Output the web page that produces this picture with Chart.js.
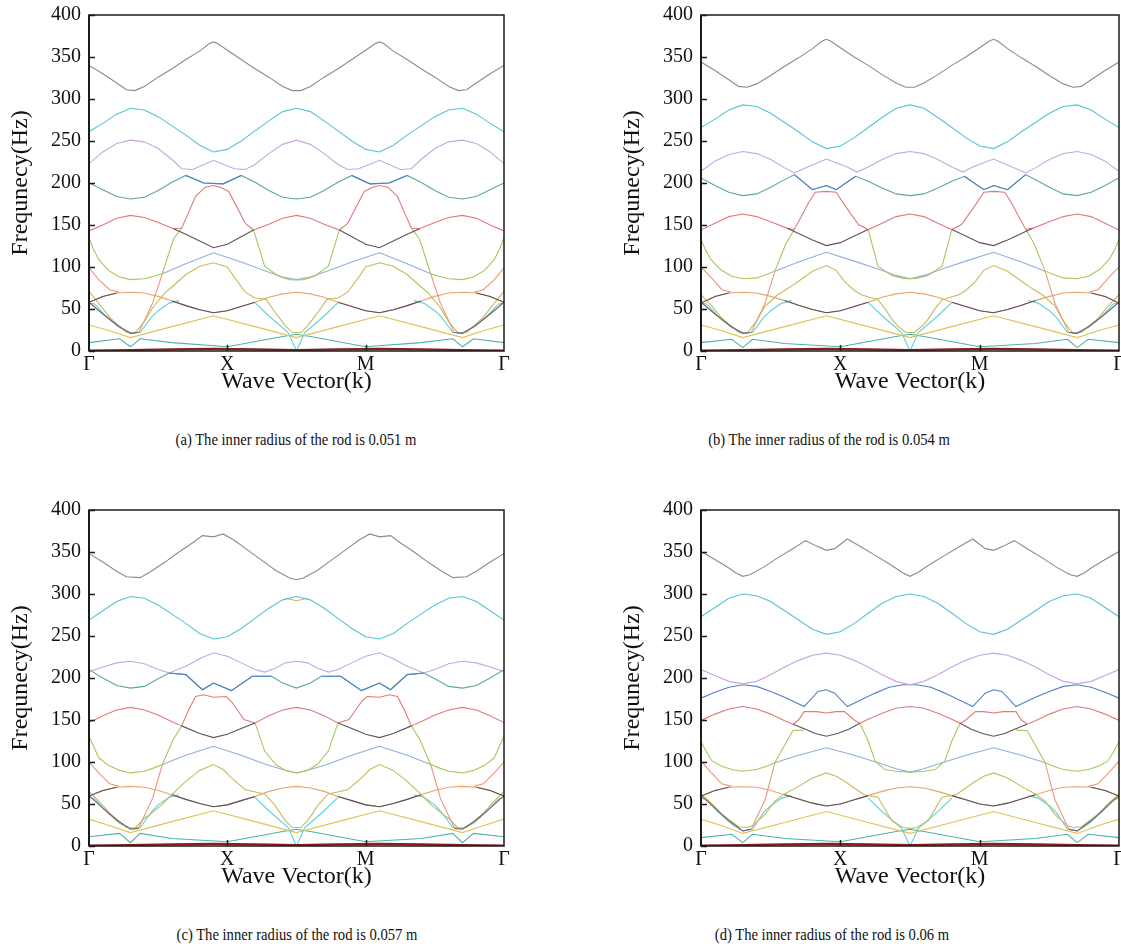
<!DOCTYPE html>
<html>
<head>
<meta charset="utf-8">
<script src="https://cdn.jsdelivr.net/npm/chart.js@4.4.0/dist/chart.umd.min.js"></script>
<style>
  html, body { margin: 0; padding: 0; background: #fff; width: 1121px; height: 952px; overflow: hidden; }
  canvas.panel { position: absolute; }
  .cap { position: absolute; font-family: 'Liberation Serif', 'Times New Roman', serif; font-size: 17px; color: #111;
         white-space: nowrap; transform: translateX(-50%) scaleX(0.86); }
</style>
</head>
<body>
<canvas id="pa" class="panel" width="520" height="400" style="left:0px;top:0px"></canvas>
<canvas id="pb" class="panel" width="520" height="400" style="left:612px;top:0px"></canvas>
<canvas id="pc" class="panel" width="520" height="400" style="left:0px;top:495px"></canvas>
<canvas id="pd" class="panel" width="520" height="400" style="left:612px;top:495px"></canvas>
<div class="cap" style="left:296px;top:430px">(a) The inner radius of the rod is 0.051 m</div>
<div class="cap" style="left:829px;top:430px">(b) The inner radius of the rod is 0.054 m</div>
<div class="cap" style="left:297px;top:925px">(c) The inner radius of the rod is 0.057 m</div>
<div class="cap" style="left:832px;top:925px">(d) The inner radius of the rod is 0.06 m</div>
<script>
// Band structure along Γ–X–M–Γ: each band is a list of [k, frequency (Hz)] vertices, null = break.
const N = null;
const K_LABELS = ['Γ', 'X', 'M', 'Γ'];
const Y_TITLE = 'Frequnecy(Hz)';
const X_TITLE = 'Wave Vector(k)';

// ---------- (a) r = 0.051 m ----------
const a_top = [[0,340],[0.1,330],[0.2,319],[0.27,311],[0.33,310],[0.4,315],[0.5,326],[0.6,336],[0.7,347],[0.8,357],[0.87,366],[0.9,368],[0.93,366],[1.0,358],[1.1,347],[1.2,336],[1.3,326],[1.4,315],[1.47,310],[1.53,310],[1.6,315],[1.7,326],[1.8,336],[1.9,347],[2.0,358],[2.07,366],[2.1,368],[2.13,366],[2.2,357],[2.3,347],[2.4,336],[2.5,326],[2.6,315],[2.67,310],[2.73,311],[2.8,319],[2.9,330],[3,340]];
const a_cyan = [[0,261],[0.1,271],[0.2,282],[0.3,289],[0.4,287],[0.5,279],[0.6,268],[0.7,257],[0.8,245],[0.9,237],[1.0,240],[1.1,250],[1.2,262],[1.3,274],[1.4,285],[1.5,289],[1.6,285],[1.7,274],[1.8,262],[1.9,250],[2.0,240],[2.1,237],[2.2,245],[2.3,257],[2.4,268],[2.5,279],[2.6,287],[2.7,289],[2.8,282],[2.9,271],[3,261]];
const a_purple = [[0,223],[0.1,237],[0.2,247],[0.3,251],[0.4,249],[0.5,241],[0.6,228],[0.67,217],[0.75,216],[0.9,227],[1.05,217],[1.13,216],[1.2,222],[1.3,235],[1.4,246],[1.5,251],[1.6,246],[1.7,235],[1.8,222],[1.87,216],[1.95,217],[2.1,227],[2.25,216],[2.33,217],[2.4,228],[2.5,241],[2.6,249],[2.7,251],[2.8,247],[2.9,237],[3,223]];
const a_teal = [[0,200],[0.1,192],[0.2,184],[0.3,181],[0.4,183],[0.5,191],[0.6,201],[0.7,209],[0.83,200],[0.97,199],[1.1,209],[1.2,201],[1.3,191],[1.4,183],[1.5,181],[1.6,183],[1.7,191],[1.8,201],[1.9,209],[2.03,199],[2.17,200],[2.3,209],[2.4,201],[2.5,191],[2.6,183],[2.7,181],[2.8,184],[2.9,192],[3,200]];
const a_dip = [[0.7,209],[0.83,200],[0.97,199],[1.1,209],[1.5,N],[1.9,209],[2.03,199],[2.17,200],[2.3,209]];
const a_red = [[0,143],[0.1,150],[0.2,158],[0.3,161.5],[0.4,159],[0.5,153],[0.61,145.5],[0.67,146.5],[0.72,165],[0.77,184],[0.84,195],[0.9,197],[0.95,195],[1.01,190],[1.08,168],[1.13,152],[1.19,144],[1.3,151],[1.4,158],[1.5,161.5],[1.6,158],[1.7,151],[1.81,144],[1.87,152],[1.92,168],[1.99,190],[2.05,195],[2.1,197],[2.16,195],[2.23,184],[2.28,165],[2.33,146.5],[2.39,145.5],[2.5,153],[2.6,159],[2.7,161.5],[2.8,158],[2.9,150],[3,143]];
const a_darkV = [[0.61,145.5],[0.7,139],[0.8,131],[0.9,123],[1.0,127],[1.1,136],[1.19,144],[1.5,N],[1.81,144],[1.9,136],[2.0,127],[2.1,123],[2.2,131],[2.3,139],[2.39,145.5]];
const a_green = [[0,135],[0.03,122],[0.07,109],[0.14,96],[0.22,88],[0.3,85],[0.4,86],[0.47,89],[0.53,92],[0.61,133],[0.67,146.5],[0.9,N],[1.19,144],[1.27,101],[1.37,89],[1.45,85],[1.5,84.5],[1.55,85],[1.63,89],[1.73,101],[1.81,144],[2.1,N],[2.33,146.5],[2.39,133],[2.47,92],[2.53,89],[2.6,86],[2.7,85],[2.78,88],[2.86,96],[2.93,109],[2.97,122],[3,135]];
const a_blue = [[0.53,92],[0.7,104],[0.9,117],[1.1,106],[1.28,95],[1.4,88],[1.5,85],[1.6,88],[1.72,95],[1.9,106],[2.1,117],[2.3,104],[2.47,92]];
const a_salmon = [[0,99],[0.07,85],[0.15,73],[0.22,70],[0.3,N],[0.36,22],[0.46,57],[0.53,92],[1.5,N],[2.47,92],[2.54,57],[2.64,22],[2.7,N],[2.78,70],[2.85,73],[2.93,85],[3,99]];
const a_brown = [[0,58],[0.1,44],[0.2,31],[0.3,21],[0.36,22],[1.5,N],[2.64,22],[2.7,21],[2.8,31],[2.9,44],[3,58]];
const a_olive = [[0,71],[0.08,55],[0.15,40],[0.27,22],[0.33,21],[0.4,35],[0.46,51.5],[0.55,69.5],[0.61,77.7],[0.7,91],[0.8,101],[0.9,105],[1.0,100],[1.05,88],[1.13,70],[1.2,63],[1.28,61.5],[1.35,45],[1.42,30],[1.47,22],[1.53,22],[1.58,30],[1.65,45],[1.72,61.5],[1.8,63],[1.87,70],[1.95,88],[2.0,100],[2.1,105],[2.2,101],[2.3,91],[2.39,77.7],[2.45,69.5],[2.54,51.5],[2.6,35],[2.67,21],[2.73,22],[2.85,40],[2.92,55],[3,71]];
const a_orange = [[0,58],[0.1,65],[0.2,69],[0.3,70],[0.4,69],[0.5,65],[0.6,59.5],[0.7,54],[0.8,49],[0.9,45.5],[1.0,48],[1.1,53],[1.2,58],[1.3,64],[1.4,68],[1.5,70],[1.6,68],[1.7,64],[1.8,58],[1.9,53],[2.0,48],[2.1,45.5],[2.2,49],[2.3,54],[2.4,59.5],[2.5,65],[2.6,69],[2.7,70],[2.8,69],[2.9,65],[3,58]];
const a_orangeDark = [[0,58],[0.1,65],[0.2,69],[0.4,N],[0.6,59.5],[0.7,54],[0.8,49],[0.9,45.5],[1.0,48],[1.1,53],[1.2,58],[1.5,N],[1.8,58],[1.9,53],[2.0,48],[2.1,45.5],[2.2,49],[2.3,54],[2.4,59.5],[2.6,N],[2.8,69],[2.9,65],[3,58]];
const a_cyanLow = [[0,57],[0.04,56],[0.12,42],[0.22,28],[0.3,22],[0.37,22],[0.45,40],[0.5,48],[0.58,57],[0.65,60],[0.9,N],[1.2,57.5],[1.3,41.7],[1.44,22],[1.5,0],[1.56,22],[1.7,41.7],[1.8,57.5],[2.1,N],[2.35,60],[2.42,57],[2.5,48],[2.55,40],[2.63,22],[2.7,22],[2.78,28],[2.88,42],[2.96,56],[3,57]];
const a_gold = [[0,31],[0.15,24],[0.3,16],[0.6,29],[0.9,42],[1.2,29],[1.5,16],[1.8,29],[2.1,42],[2.4,29],[2.7,16],[2.85,24],[3,31]];
const a_tealLow = [[0,10],[0.22,14.5],[0.3,5],[0.37,14.5],[0.6,10],[1.0,5],[1.39,17],[1.5,20],[1.61,17],[2.0,5],[2.4,10],[2.63,14.5],[2.7,5],[2.78,14.5],[3,10]];
const a_bottom = [[0,0.5],[0.3,1],[0.6,2],[0.9,2.5],[1.2,2],[1.5,1],[1.8,2],[2.1,2.5],[2.4,2],[2.7,1],[3,0.5]];

// ---------- (b) r = 0.054 m ----------
const b_top = [[0,344],[0.1,334],[0.2,323],[0.27,315],[0.33,314],[0.4,318],[0.5,328],[0.6,339],[0.7,349],[0.8,360],[0.87,369],[0.9,371],[0.93,369],[1.0,361],[1.1,350],[1.2,340],[1.3,329],[1.4,319],[1.47,314],[1.53,314],[1.6,319],[1.7,329],[1.8,340],[1.9,350],[2.0,361],[2.07,369],[2.1,371],[2.13,369],[2.2,360],[2.3,349],[2.4,339],[2.5,328],[2.6,318],[2.67,314],[2.73,315],[2.8,323],[2.9,334],[3,344]];
const b_cyan = [[0,266],[0.1,276],[0.2,287],[0.3,293],[0.4,291],[0.5,283],[0.6,272],[0.7,261],[0.8,249],[0.9,241],[1.0,244],[1.1,254],[1.2,266],[1.3,278],[1.4,289],[1.5,293],[1.6,289],[1.7,278],[1.8,266],[1.9,254],[2.0,244],[2.1,241],[2.2,249],[2.3,261],[2.4,272],[2.5,283],[2.6,291],[2.7,293],[2.8,287],[2.9,276],[3,266]];
const b_purple = [[0,214],[0.1,226],[0.2,234],[0.3,237.5],[0.4,235],[0.5,228],[0.6,218],[0.67,212],[0.75,218],[0.9,228.5],[1.05,219],[1.12,213],[1.2,219],[1.3,228],[1.4,235],[1.5,237.5],[1.6,235],[1.7,228],[1.8,219],[1.88,213],[1.95,219],[2.1,228.5],[2.25,218],[2.33,212],[2.4,218],[2.5,228],[2.6,235],[2.7,237.5],[2.8,234],[2.9,226],[3,214]];
const b_teal = [[0,206],[0.1,197],[0.2,189],[0.3,185],[0.4,187],[0.5,195],[0.6,204],[0.67,210],[0.8,192],[0.9,197],[0.97,192],[1.11,208],[1.2,202],[1.3,194],[1.4,187],[1.5,185],[1.6,187],[1.7,194],[1.8,202],[1.89,208],[2.03,192],[2.1,197],[2.2,192],[2.33,210],[2.4,204],[2.5,195],[2.6,187],[2.7,185],[2.8,189],[2.9,197],[3,206]];
const b_dip = [[0.67,210],[0.8,192],[0.9,197],[0.97,192],[1.11,208],[1.5,N],[1.89,208],[2.03,192],[2.1,197],[2.2,192],[2.33,210]];
const b_red = [[0,144],[0.1,152],[0.2,160],[0.3,163],[0.4,160],[0.5,154],[0.62,146],[0.67,145],[0.72,160],[0.77,176],[0.82,189],[0.9,190],[0.97,189],[1.03,174],[1.13,150.5],[1.2,144.6],[1.3,152],[1.4,160],[1.5,163],[1.6,160],[1.7,152],[1.8,144.6],[1.87,150.5],[1.97,174],[2.03,189],[2.1,190],[2.18,189],[2.23,176],[2.28,160],[2.33,145],[2.38,146],[2.5,154],[2.6,160],[2.7,163],[2.8,160],[2.9,152],[3,144]];
const b_darkV = [[0.62,146],[0.7,140],[0.8,132],[0.9,125.5],[1.0,129],[1.1,137],[1.2,144.6],[1.5,N],[1.8,144.6],[1.9,137],[2.0,129],[2.1,125.5],[2.2,132],[2.3,140],[2.38,146]];
const b_green = [[0,132.7],[0.03,121],[0.07,109],[0.14,97],[0.22,89],[0.3,86],[0.4,87],[0.47,91],[0.53,95],[0.61,128],[0.67,145],[0.9,N],[1.2,144.6],[1.27,101],[1.37,90],[1.45,86.5],[1.5,86],[1.55,86.5],[1.63,90],[1.73,101],[1.8,144.6],[2.1,N],[2.33,145],[2.39,128],[2.47,95],[2.53,91],[2.6,87],[2.7,86],[2.78,89],[2.86,97],[2.93,109],[2.97,121],[3,132.7]];
const b_blue = [[0.53,95],[0.7,106],[0.9,117.5],[1.1,107],[1.28,97],[1.4,90],[1.5,86],[1.6,90],[1.72,97],[1.9,107],[2.1,117.5],[2.3,106],[2.47,95]];
const b_salmon = [[0,100],[0.07,88],[0.15,73],[0.22,70],[0.3,N],[0.36,22],[0.46,57],[0.53,95],[1.5,N],[2.47,95],[2.54,57],[2.64,22],[2.7,N],[2.78,70],[2.85,73],[2.93,88],[3,100]];
const b_brown = [[0,58],[0.1,44],[0.2,31],[0.3,21],[0.36,22],[1.5,N],[2.64,22],[2.7,21],[2.8,31],[2.9,44],[3,58]];
const b_olive = [[0,67],[0.08,53],[0.15,39],[0.27,22],[0.33,21],[0.4,36],[0.46,53.5],[0.55,67],[0.62,74],[0.7,83],[0.8,95],[0.9,101.8],[0.97,96],[1.03,83],[1.1,72],[1.15,67],[1.27,61],[1.33,48],[1.37,38],[1.41,30],[1.47,22],[1.53,22],[1.59,30],[1.63,38],[1.67,48],[1.73,61],[1.85,67],[1.9,72],[1.97,83],[2.03,96],[2.1,101.8],[2.2,95],[2.3,83],[2.38,74],[2.45,67],[2.54,53.5],[2.6,36],[2.67,21],[2.73,22],[2.85,39],[2.92,53],[3,67]];
const b_orange = [[0,57],[0.1,65],[0.2,69],[0.3,70],[0.4,69],[0.5,65],[0.6,60],[0.7,54.5],[0.8,49.5],[0.9,45.6],[1.0,48],[1.1,53],[1.2,58],[1.3,64],[1.4,68],[1.5,70],[1.6,68],[1.7,64],[1.8,58],[1.9,53],[2.0,48],[2.1,45.6],[2.2,49.5],[2.3,54.5],[2.4,60],[2.5,65],[2.6,69],[2.7,70],[2.8,69],[2.9,65],[3,57]];
const b_orangeDark = [[0,57],[0.1,65],[0.2,69],[0.4,N],[0.6,60],[0.7,54.5],[0.8,49.5],[0.9,45.6],[1.0,48],[1.1,53],[1.2,58],[1.5,N],[1.8,58],[1.9,53],[2.0,48],[2.1,45.6],[2.2,49.5],[2.3,54.5],[2.4,60],[2.6,N],[2.8,69],[2.9,65],[3,57]];
const b_cyanLow = [[0,57],[0.04,56],[0.12,42],[0.22,28],[0.3,22],[0.37,22],[0.45,40],[0.5,48],[0.58,57],[0.65,60],[0.9,N],[1.2,57.5],[1.3,42],[1.44,22],[1.5,0],[1.56,22],[1.7,42],[1.8,57.5],[2.1,N],[2.35,60],[2.42,57],[2.5,48],[2.55,40],[2.63,22],[2.7,22],[2.78,28],[2.88,42],[2.96,56],[3,57]];
const b_gold = [[0,31],[0.15,24],[0.3,16],[0.6,29],[0.9,42],[1.2,29],[1.5,16],[1.8,29],[2.1,42],[2.4,29],[2.7,16],[2.85,24],[3,31]];
const b_tealLow = [[0,10],[0.22,14],[0.3,4],[0.37,14],[0.6,9],[1.0,5],[1.39,17],[1.5,20],[1.61,17],[2.0,5],[2.4,9],[2.63,14],[2.7,4],[2.78,14],[3,10]];
const b_bottom = [[0,0.5],[0.3,1],[0.6,2],[0.9,2.5],[1.2,2],[1.5,1],[1.8,2],[2.1,2.5],[2.4,2],[2.7,1],[3,0.5]];

// ---------- (c) r = 0.057 m ----------
const c_top = [[0,348],[0.1,338],[0.2,327],[0.27,320.5],[0.37,319.5],[0.45,327],[0.55,338],[0.65,350],[0.75,361],[0.82,369.5],[0.9,368],[0.97,371.5],[1.05,364],[1.15,352],[1.25,340],[1.35,328],[1.45,319],[1.5,317],[1.55,319],[1.65,328],[1.75,340],[1.85,352],[1.95,364],[2.03,371.5],[2.1,368],[2.18,369.5],[2.25,361],[2.35,350],[2.45,338],[2.55,327],[2.63,319.5],[2.73,320.5],[2.8,327],[2.9,338],[3,348]];
const c_cyan = [[0,269],[0.1,280],[0.2,291],[0.3,297],[0.4,295],[0.5,287],[0.6,276],[0.7,265],[0.8,253],[0.9,246.5],[1.0,249],[1.1,259],[1.2,271],[1.3,283],[1.4,293],[1.5,297],[1.6,293],[1.7,283],[1.8,271],[1.9,259],[2.0,249],[2.1,246.5],[2.2,253],[2.3,265],[2.4,276],[2.5,287],[2.6,295],[2.7,297],[2.8,291],[2.9,280],[3,269]];
const c_bump = [[1.42,295],[1.5,292],[1.58,295]];
const c_purple = [[0,207.5],[0.1,213],[0.2,218],[0.3,220],[0.4,217],[0.5,210],[0.58,206],[0.7,214],[0.8,223],[0.9,230],[1.0,226],[1.1,218],[1.2,210],[1.27,207],[1.35,212],[1.42,218],[1.5,220],[1.58,218],[1.65,212],[1.73,207],[1.8,210],[1.9,218],[2.0,226],[2.1,230],[2.2,223],[2.3,214],[2.42,206],[2.5,210],[2.6,217],[2.7,220],[2.8,218],[2.9,213],[3,207.5]];
const c_teal = [[0,210],[0.1,200],[0.2,191],[0.3,188],[0.4,190],[0.5,199],[0.58,206],[0.7,204],[0.82,186],[0.9,194],[1.03,185],[1.18,202],[1.32,202],[1.4,194],[1.5,188],[1.6,194],[1.68,202],[1.82,202],[1.97,185],[2.1,194],[2.18,186],[2.3,204],[2.42,206],[2.5,199],[2.6,190],[2.7,188],[2.8,191],[2.9,200],[3,210]];
const c_dip = [[0.58,206],[0.7,204],[0.82,186],[0.9,194],[1.03,185],[1.18,202],[1.32,202],[1.5,N],[1.68,202],[1.82,202],[1.97,185],[2.1,194],[2.18,186],[2.3,204],[2.42,206]];
const c_red = [[0,147],[0.1,155],[0.2,162],[0.3,165],[0.4,162],[0.5,156],[0.6,148],[0.67,143],[0.72,162],[0.77,178],[0.83,180],[0.9,177],[0.99,178],[1.03,172],[1.12,150.5],[1.2,146.5],[1.3,155],[1.4,162],[1.5,165],[1.6,162],[1.7,155],[1.8,146.5],[1.88,150.5],[1.97,172],[2.01,178],[2.1,177],[2.17,180],[2.23,178],[2.28,162],[2.33,143],[2.4,148],[2.5,156],[2.6,162],[2.7,165],[2.8,162],[2.9,155],[3,147]];
const c_darkV = [[0.67,143],[0.8,134],[0.9,129],[1.0,133],[1.1,140],[1.2,146.5],[1.5,N],[1.8,146.5],[1.9,140],[2.0,133],[2.1,129],[2.2,134],[2.33,143]];
const c_green = [[0,130.7],[0.03,120],[0.07,105],[0.14,96],[0.22,90],[0.3,87],[0.4,89],[0.47,93],[0.53,97],[0.61,127],[0.67,143],[0.9,N],[1.2,146.5],[1.27,113],[1.35,97],[1.42,90],[1.5,87],[1.58,90],[1.65,97],[1.73,113],[1.8,146.5],[2.1,N],[2.33,143],[2.39,127],[2.47,97],[2.53,93],[2.6,89],[2.7,87],[2.78,90],[2.86,96],[2.93,105],[2.97,120],[3,130.7]];
const c_blue = [[0.53,97],[0.7,108],[0.9,118.8],[1.1,108],[1.28,97],[1.4,91],[1.5,87],[1.6,91],[1.72,97],[1.9,108],[2.1,118.8],[2.3,108],[2.47,97]];
const c_salmon = [[0,100],[0.07,87],[0.15,74],[0.22,71],[0.3,N],[0.36,22],[0.46,57],[0.53,97],[1.5,N],[2.47,97],[2.54,57],[2.64,22],[2.7,N],[2.78,71],[2.85,74],[2.93,87],[3,100]];
const c_brown = [[0,60],[0.1,45],[0.2,31],[0.3,20],[0.36,21],[1.5,N],[2.64,21],[2.7,20],[2.8,31],[2.9,45],[3,60]];
const c_olive = [[0,65],[0.08,52],[0.15,39],[0.27,22],[0.33,21],[0.4,33],[0.46,40],[0.53,49.6],[0.6,61.5],[0.7,77],[0.8,90],[0.9,97],[0.97,91],[1.03,81],[1.13,67],[1.27,62],[1.34,49.6],[1.42,30],[1.47,22],[1.53,22],[1.58,30],[1.66,49.6],[1.73,62],[1.87,67],[1.97,81],[2.03,91],[2.1,97],[2.2,90],[2.3,77],[2.4,61.5],[2.47,49.6],[2.54,40],[2.6,33],[2.67,21],[2.73,22],[2.85,39],[2.92,52],[3,65]];
const c_orange = [[0,59.5],[0.1,66],[0.2,70],[0.3,71],[0.4,70],[0.5,66],[0.6,61],[0.7,55.5],[0.8,50.5],[0.9,46.8],[1.0,49],[1.1,54],[1.2,59],[1.3,65],[1.4,69],[1.5,71],[1.6,69],[1.7,65],[1.8,59],[1.9,54],[2.0,49],[2.1,46.8],[2.2,50.5],[2.3,55.5],[2.4,61],[2.5,66],[2.6,70],[2.7,71],[2.8,70],[2.9,66],[3,59.5]];
const c_orangeDark = [[0,59.5],[0.1,66],[0.2,70],[0.4,N],[0.6,61],[0.7,55.5],[0.8,50.5],[0.9,46.8],[1.0,49],[1.1,54],[1.2,59],[1.5,N],[1.8,59],[1.9,54],[2.0,49],[2.1,46.8],[2.2,50.5],[2.3,55.5],[2.4,61],[2.6,N],[2.8,70],[2.9,66],[3,59.5]];
const c_cyanLow = [[0,58],[0.04,56],[0.12,42],[0.22,27],[0.3,21],[0.37,22],[0.45,40],[0.5,49],[0.58,58],[0.65,61],[0.9,N],[1.2,58],[1.3,42],[1.44,22],[1.5,0],[1.56,22],[1.7,42],[1.8,58],[2.1,N],[2.35,61],[2.42,58],[2.5,49],[2.55,40],[2.63,22],[2.7,21],[2.78,27],[2.88,42],[2.96,56],[3,58]];
const c_gold = [[0,32],[0.15,24],[0.3,16],[0.6,29],[0.9,42],[1.2,29],[1.5,16],[1.8,29],[2.1,42],[2.4,29],[2.7,16],[2.85,24],[3,32]];
const c_tealLow = [[0,11],[0.22,15],[0.3,4],[0.37,15],[0.6,9],[1.0,5],[1.39,17],[1.5,20],[1.61,17],[2.0,5],[2.4,9],[2.63,15],[2.7,4],[2.78,15],[3,11]];
const c_bottom = [[0,0.5],[0.3,1],[0.6,2],[0.9,2.5],[1.2,2],[1.5,1],[1.8,2],[2.1,2.5],[2.4,2],[2.7,1],[3,0.5]];

// ---------- (d) r = 0.06 m ----------
const d_top = [[0,350.5],[0.1,341],[0.2,331],[0.25,325],[0.3,321],[0.35,323],[0.45,332],[0.55,343],[0.65,353],[0.75,363.5],[0.83,357],[0.9,352],[0.96,354],[1.05,365.5],[1.15,356],[1.25,346],[1.35,336],[1.45,325],[1.5,321],[1.55,325],[1.65,336],[1.75,346],[1.85,356],[1.95,365.5],[2.04,354],[2.1,352],[2.17,357],[2.25,363.5],[2.35,353],[2.45,343],[2.55,332],[2.65,323],[2.7,321],[2.75,325],[2.8,331],[2.9,341],[3,350.5]];
const d_cyan = [[0,273],[0.1,284],[0.2,295],[0.3,300],[0.4,298],[0.5,291],[0.6,280],[0.7,269],[0.8,258],[0.9,252],[1.0,255],[1.1,265],[1.2,277],[1.3,289],[1.4,297],[1.5,300],[1.6,297],[1.7,289],[1.8,277],[1.9,265],[2.0,255],[2.1,252],[2.2,258],[2.3,269],[2.4,280],[2.5,291],[2.6,298],[2.7,300],[2.8,295],[2.9,284],[3,273]];
const d_purple = [[0,210],[0.1,203],[0.2,196],[0.3,193],[0.4,196],[0.5,204],[0.6,213],[0.7,221],[0.8,227],[0.9,229.6],[1.0,227],[1.1,221],[1.2,213],[1.3,204],[1.4,196],[1.5,192],[1.6,196],[1.7,204],[1.8,213],[1.9,221],[2.0,227],[2.1,229.6],[2.2,227],[2.3,221],[2.4,213],[2.5,204],[2.6,196],[2.7,193],[2.8,196],[2.9,203],[3,210]];
const d_blueUp = [[0,176],[0.1,183],[0.2,189],[0.3,192],[0.4,190],[0.5,184],[0.6,177],[0.74,166],[0.84,184],[0.9,186],[0.96,182],[1.05,166],[1.15,174],[1.25,182],[1.35,189],[1.45,192],[1.55,192],[1.65,189],[1.75,182],[1.85,174],[1.95,166],[2.04,182],[2.1,186],[2.16,184],[2.26,166],[2.4,177],[2.5,184],[2.6,190],[2.7,192],[2.8,189],[2.9,183],[3,176]];
const d_red = [[0,149.5],[0.1,157],[0.2,163],[0.3,166],[0.4,163],[0.5,157],[0.6,149],[0.66,145],[0.7,150],[0.74,160],[0.83,160],[0.9,158.4],[0.97,160],[1.03,160],[1.1,150],[1.14,146],[1.2,151],[1.3,158],[1.4,164],[1.5,166],[1.6,164],[1.7,158],[1.8,151],[1.86,146],[1.9,150],[1.97,160],[2.03,160],[2.1,158.4],[2.17,160],[2.26,160],[2.3,150],[2.34,145],[2.4,149],[2.5,157],[2.6,163],[2.7,166],[2.8,163],[2.9,157],[3,149.5]];
const d_darkV = [[0.66,145],[0.75,139],[0.82,134],[0.9,130.7],[0.98,134],[1.06,139],[1.14,146],[1.5,N],[1.86,146],[1.94,139],[2.02,134],[2.1,130.7],[2.18,134],[2.25,139],[2.34,145]];
const d_green = [[0,124],[0.04,112],[0.08,101],[0.15,95],[0.22,91],[0.3,89],[0.4,91],[0.47,95],[0.53,99],[0.6,120],[0.66,137.5],[0.74,138],[0.9,N],[1.14,146],[1.2,125],[1.25,101],[1.32,91],[1.4,89],[1.5,88],[1.6,89],[1.68,91],[1.75,101],[1.8,125],[1.86,146],[2.1,N],[2.26,138],[2.34,137.5],[2.4,120],[2.47,99],[2.53,95],[2.6,91],[2.7,89],[2.78,91],[2.85,95],[2.92,101],[2.96,112],[3,124]];
const d_blue = [[0.53,99],[0.7,108],[0.9,117],[1.1,108],[1.27,99],[1.4,92],[1.5,88],[1.6,92],[1.73,99],[1.9,108],[2.1,117],[2.3,108],[2.47,99]];
const d_salmon = [[0,101],[0.07,88],[0.15,74],[0.22,71],[0.3,N],[0.36,20],[0.46,55],[0.53,99],[1.5,N],[2.47,99],[2.54,55],[2.64,20],[2.7,N],[2.78,71],[2.85,74],[2.93,88],[3,101]];
const d_brown = [[0,60],[0.1,45],[0.2,30],[0.3,18],[0.36,20],[1.5,N],[2.64,20],[2.7,18],[2.8,30],[2.9,45],[3,60]];
const d_olive = [[0,62],[0.08,50],[0.15,38],[0.27,23],[0.33,22],[0.37,24],[0.46,37.7],[0.53,53.5],[0.6,62],[0.7,71],[0.8,81],[0.9,87],[0.97,83],[1.03,77],[1.1,69],[1.17,61],[1.27,58],[1.37,30],[1.45,22],[1.5,21],[1.55,22],[1.63,30],[1.73,58],[1.83,61],[1.9,69],[1.97,77],[2.03,83],[2.1,87],[2.2,81],[2.3,71],[2.4,62],[2.47,53.5],[2.54,37.7],[2.63,24],[2.67,22],[2.73,23],[2.85,38],[2.92,50],[3,62]];
const d_orange = [[0,59.5],[0.1,66],[0.2,70],[0.3,70.5],[0.4,70],[0.5,66],[0.6,61],[0.7,56],[0.8,51],[0.9,47.6],[1.0,50],[1.1,55],[1.2,60],[1.3,65],[1.4,69],[1.5,70.5],[1.6,69],[1.7,65],[1.8,60],[1.9,55],[2.0,50],[2.1,47.6],[2.2,51],[2.3,56],[2.4,61],[2.5,66],[2.6,70],[2.7,70.5],[2.8,70],[2.9,66],[3,59.5]];
const d_orangeDark = [[0,59.5],[0.1,66],[0.2,70],[0.4,N],[0.6,61],[0.7,56],[0.8,51],[0.9,47.6],[1.0,50],[1.1,55],[1.2,60],[1.5,N],[1.8,60],[1.9,55],[2.0,50],[2.1,47.6],[2.2,51],[2.3,56],[2.4,61],[2.6,N],[2.8,70],[2.9,66],[3,59.5]];
const d_cyanLow = [[0,57],[0.04,55],[0.12,41],[0.22,26],[0.3,18],[0.37,20],[0.45,40],[0.5,48],[0.58,57],[0.65,60],[0.9,N],[1.2,57],[1.3,41],[1.44,21],[1.5,0],[1.56,21],[1.7,41],[1.8,57],[2.1,N],[2.35,60],[2.42,57],[2.5,48],[2.55,40],[2.63,20],[2.7,18],[2.78,26],[2.88,41],[2.96,55],[3,57]];
const d_gold = [[0,32],[0.15,24],[0.3,15],[0.6,28],[0.9,41],[1.2,28],[1.5,15],[1.8,28],[2.1,41],[2.4,28],[2.7,15],[2.85,24],[3,32]];
const d_tealLow = [[0,10],[0.22,14],[0.3,4],[0.37,14],[0.6,9],[1.0,5],[1.39,17],[1.5,20],[1.61,17],[2.0,5],[2.4,9],[2.63,14],[2.7,4],[2.78,14],[3,10]];
const d_bottom = [[0,0.5],[0.3,1],[0.6,2],[0.9,2.5],[1.2,2],[1.5,1],[1.8,2],[2.1,2.5],[2.4,2],[2.7,1],[3,0.5]];

// Line colours by band family
const COLORS = {
  gray: '#8e8a8c', cyan: '#55c5d3', purple: '#c6a6e0', teal: '#5aa8a2', blue: '#5381c7',
  red: '#e07a7a', dark: '#5f505f', green: '#abc55e', blueLow: '#8fafde', olive: '#c7bb5b',
  orange: '#eaa36b', salmon: '#ed977a', brown: '#7d5f6c', cyanLow: '#5cd0df', gold: '#e2c152',
  tealLow: '#4fb2a5', bottom: '#8a1c1c', bump: '#e4b04f'
};

// [band, colour, drawn on top?]
const PANELS = [
  { id: 'pa', right: 504, bands: [
    [a_top,'gray'],[a_cyan,'cyan'],[a_purple,'purple'],[a_teal,'teal'],[a_dip,'blue',1],[a_red,'red'],[a_darkV,'dark',1],
    [a_green,'green'],[a_blue,'blueLow'],[a_salmon,'salmon'],[a_brown,'brown'],[a_olive,'olive'],[a_orange,'orange'],
    [a_orangeDark,'dark',1],[a_cyanLow,'cyanLow'],[a_gold,'gold'],[a_tealLow,'tealLow'],[a_bottom,'bottom',1]] },
  { id: 'pb', right: 1119 - 612, bands: [
    [b_top,'gray'],[b_cyan,'cyan'],[b_purple,'purple'],[b_teal,'teal'],[b_dip,'blue',1],[b_red,'red'],[b_darkV,'dark',1],
    [b_green,'green'],[b_blue,'blueLow'],[b_salmon,'salmon'],[b_brown,'brown'],[b_olive,'olive'],[b_orange,'orange'],
    [b_orangeDark,'dark',1],[b_cyanLow,'cyanLow'],[b_gold,'gold'],[b_tealLow,'tealLow'],[b_bottom,'bottom',1]] },
  { id: 'pc', right: 504, bands: [
    [c_top,'gray'],[c_cyan,'cyan'],[c_bump,'bump'],[c_purple,'purple'],[c_teal,'teal'],[c_dip,'blue',1],[c_red,'red'],[c_darkV,'dark',1],
    [c_green,'green'],[c_blue,'blueLow'],[c_salmon,'salmon'],[c_brown,'brown'],[c_olive,'olive'],[c_orange,'orange'],
    [c_orangeDark,'dark',1],[c_cyanLow,'cyanLow'],[c_gold,'gold'],[c_tealLow,'tealLow'],[c_bottom,'bottom',1]] },
  { id: 'pd', right: 1119 - 612, bands: [
    [d_top,'gray'],[d_cyan,'cyan'],[d_purple,'purple'],[d_blueUp,'blue'],[d_red,'red'],[d_darkV,'dark',1],
    [d_green,'green'],[d_blue,'blueLow'],[d_salmon,'salmon'],[d_brown,'brown'],[d_olive,'olive'],[d_orange,'orange'],
    [d_orangeDark,'dark',1],[d_cyanLow,'cyanLow'],[d_gold,'gold'],[d_tealLow,'tealLow'],[d_bottom,'bottom',1]] }
];

const SERIF = "'Liberation Serif', 'Times New Roman', serif";

// Box frame plus inward tick marks
const framePlugin = {
  id: 'frame',
  afterDraw(chart) {
    const { ctx, chartArea: a, scales: { x, y } } = chart;
    ctx.save();
    ctx.strokeStyle = '#1b1b1b';
    ctx.lineWidth = 1.5;
    ctx.strokeRect(a.left, a.top, a.right - a.left, a.bottom - a.top);
    ctx.lineWidth = 2;
    ctx.beginPath(); ctx.moveTo(a.left, a.top); ctx.lineTo(a.left, a.bottom); ctx.stroke();
    ctx.lineWidth = 1.5;
    ctx.beginPath();
    y.ticks.forEach(t => {
      const py = Math.round(y.getPixelForValue(t.value)) + 0.5;
      ctx.moveTo(a.left, py); ctx.lineTo(a.left + 6, py);
    });
    x.ticks.forEach(t => {
      if (t.value > 0 && t.value < 3) {
        const px = Math.round(x.getPixelForValue(t.value)) + 0.5;
        ctx.moveTo(px, a.bottom); ctx.lineTo(px, a.bottom - 6);
      }
    });
    ctx.stroke();
    ctx.restore();
  }
};

PANELS.forEach(p => {
  const canvas = document.getElementById(p.id);
  const datasets = p.bands.map(([band, col, top]) => ({
    data: band.map(([k, f]) => ({ x: k, y: f })),
    borderColor: COLORS[col],
    borderWidth: col === 'bottom' ? 2.2 : 1.1,
    showLine: true,
    pointRadius: 0,
    tension: 0,
    spanGaps: false,
    order: top ? 0 : 1
  }));
  new Chart(canvas, {
    type: 'scatter',
    data: { datasets },
    plugins: [framePlugin],
    options: {
      responsive: false,
      animation: false,
      devicePixelRatio: 1,
      layout: { padding: { top: 15, right: canvas.width - p.right, left: 0, bottom: 0 } },
      plugins: { legend: { display: false }, tooltip: { enabled: false } },
      scales: {
        x: {
          type: 'linear', min: 0, max: 3,
          grid: { display: false, drawTicks: false }, border: { display: false },
          ticks: { stepSize: 1, padding: 2, color: '#111', maxRotation: 0, autoSkip: false,
                   font: { family: SERIF, size: 20 }, callback: v => K_LABELS[v] },
          title: { display: true, text: X_TITLE, color: '#111', font: { family: SERIF, size: 24 },
                   padding: { top: 0, bottom: 4 } },
          afterFit(s) { s.height = 49; s.paddingLeft = 0; s.paddingRight = 0; }
        },
        y: {
          type: 'linear', min: 0, max: 400,
          grid: { display: false, drawTicks: false }, border: { display: false },
          ticks: { stepSize: 50, padding: 8, color: '#111', font: { family: SERIF, size: 20 } },
          title: { display: true, text: Y_TITLE, color: '#111', font: { family: SERIF, size: 24 },
                   padding: { top: 6, bottom: 0 } },
          afterFit(s) { s.width = 89; s.paddingTop = 0; s.paddingBottom = 0; }
        }
      }
    }
  });
});
</script>
</body>
</html>
